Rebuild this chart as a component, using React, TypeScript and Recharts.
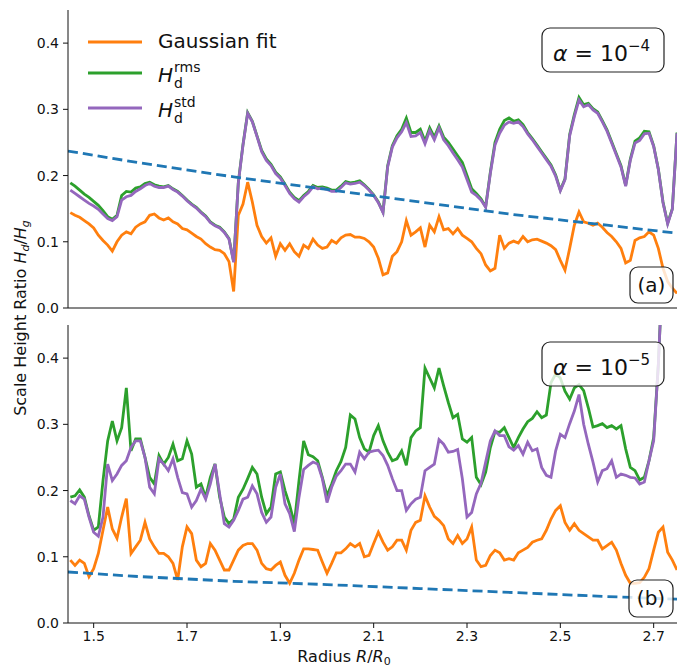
import { LineChart, Line, XAxis, YAxis } from "recharts";

// sampling grid (radius R/R0), shared by both panels
const radius = [
  1.45, 1.46, 1.47, 1.48, 1.49, 1.5, 1.51, 1.52, 1.53, 1.54, 1.55, 1.56, 1.57, 1.58, 1.59, 1.6, 1.61, 1.62, 1.63, 1.64,
  1.65, 1.66, 1.67, 1.68, 1.69, 1.7, 1.71, 1.72, 1.73, 1.74, 1.75, 1.76, 1.77, 1.78, 1.79, 1.8, 1.81, 1.82, 1.83, 1.84,
  1.85, 1.86, 1.87, 1.88, 1.89, 1.9, 1.91, 1.92, 1.93, 1.94, 1.95, 1.96, 1.97, 1.98, 1.99, 2.0, 2.01, 2.02, 2.03, 2.04,
  2.05, 2.06, 2.07, 2.08, 2.09, 2.1, 2.11, 2.12, 2.13, 2.14, 2.15, 2.16, 2.17, 2.18, 2.19, 2.2, 2.21, 2.22, 2.23, 2.24,
  2.25, 2.26, 2.27, 2.28, 2.29, 2.3, 2.31, 2.32, 2.33, 2.34, 2.35, 2.36, 2.37, 2.38, 2.39, 2.4, 2.41, 2.42, 2.43, 2.44,
  2.45, 2.46, 2.47, 2.48, 2.49, 2.5, 2.51, 2.52, 2.53, 2.54, 2.55, 2.56, 2.57, 2.58, 2.59, 2.6, 2.61, 2.62, 2.63, 2.64,
  2.65, 2.66, 2.67, 2.68, 2.69, 2.7, 2.71, 2.72, 2.73, 2.74, 2.75,
];

// panel (a), alpha = 1e-4
const gaussA = [
  0.144, 0.14, 0.137, 0.132, 0.127, 0.121, 0.11, 0.102, 0.095, 0.086, 0.1, 0.11, 0.115, 0.112, 0.122, 0.127, 0.13, 0.14, 0.142, 0.136,
  0.133, 0.136, 0.13, 0.127, 0.12, 0.118, 0.113, 0.108, 0.104, 0.097, 0.092, 0.088, 0.087, 0.082, 0.07, 0.025, 0.14, 0.157, 0.19, 0.16,
  0.125, 0.108, 0.098, 0.106, 0.078, 0.097, 0.087, 0.097, 0.085, 0.078, 0.095, 0.09, 0.104, 0.095, 0.09, 0.092, 0.102, 0.098, 0.106, 0.11,
  0.111, 0.107, 0.107, 0.105, 0.1, 0.092, 0.075, 0.05, 0.053, 0.078, 0.085, 0.1, 0.132, 0.11, 0.115, 0.121, 0.092, 0.125, 0.115, 0.138,
  0.118, 0.12, 0.112, 0.12, 0.11, 0.105, 0.1, 0.09, 0.082, 0.065, 0.056, 0.06, 0.11, 0.09, 0.098, 0.101, 0.098, 0.108, 0.1, 0.103,
  0.104, 0.101, 0.098, 0.094, 0.088, 0.072, 0.057, 0.09, 0.125, 0.145, 0.13, 0.128, 0.125, 0.128, 0.122, 0.114, 0.108, 0.1, 0.09, 0.068,
  0.072, 0.102, 0.106, 0.108, 0.115, 0.11, 0.09, 0.06, 0.04, 0.03, 0.022,
];
const rmsA = [
  0.189, 0.184, 0.178, 0.172, 0.167, 0.161, 0.155, 0.147, 0.138, 0.134, 0.14, 0.17, 0.176, 0.175, 0.181, 0.183, 0.188, 0.19, 0.186, 0.184,
  0.183, 0.185, 0.18, 0.176, 0.17, 0.163, 0.157, 0.152, 0.145, 0.139, 0.13, 0.125, 0.122, 0.115, 0.105, 0.07, 0.19, 0.247, 0.295, 0.282,
  0.26, 0.238, 0.225, 0.217, 0.205, 0.198, 0.187, 0.175, 0.167, 0.162, 0.17, 0.176, 0.185, 0.182, 0.183, 0.181, 0.178, 0.178, 0.184, 0.191,
  0.189, 0.19, 0.192, 0.186, 0.179, 0.171, 0.16, 0.145, 0.215, 0.245, 0.26, 0.27, 0.287, 0.265, 0.265, 0.27, 0.252, 0.272, 0.258, 0.275,
  0.258, 0.25, 0.24, 0.23, 0.22, 0.2, 0.18, 0.173, 0.165, 0.153, 0.205, 0.25, 0.27, 0.283, 0.287, 0.282, 0.284, 0.277, 0.265, 0.256,
  0.246, 0.236, 0.226, 0.216, 0.201, 0.178, 0.195, 0.262, 0.292, 0.318, 0.307, 0.309, 0.301, 0.296, 0.283, 0.269, 0.251, 0.233, 0.215, 0.185,
  0.225, 0.252, 0.257, 0.267, 0.266, 0.245, 0.21, 0.16, 0.128, 0.15, 0.265,
];
const stdA = [
  0.178, 0.173, 0.168, 0.163, 0.158, 0.154, 0.149, 0.142, 0.135, 0.132, 0.138, 0.163, 0.168, 0.17, 0.176, 0.18, 0.185, 0.188, 0.184, 0.182,
  0.182, 0.184, 0.179, 0.175, 0.169, 0.162, 0.156, 0.151, 0.144, 0.138, 0.129, 0.124, 0.121, 0.114, 0.104, 0.069, 0.189, 0.246, 0.294, 0.281,
  0.259, 0.236, 0.223, 0.215, 0.203, 0.196, 0.185, 0.173, 0.165, 0.16, 0.168, 0.174, 0.183, 0.18, 0.181, 0.179, 0.176, 0.176, 0.182, 0.189,
  0.187, 0.188, 0.19, 0.185, 0.178, 0.17, 0.159, 0.144, 0.213, 0.243, 0.257, 0.266, 0.28, 0.259, 0.26, 0.265, 0.248, 0.268, 0.254, 0.272,
  0.254, 0.245, 0.234, 0.224, 0.213, 0.194, 0.175, 0.17, 0.163, 0.152, 0.203, 0.246, 0.264, 0.276, 0.281, 0.279, 0.281, 0.274, 0.263, 0.254,
  0.244, 0.234, 0.224, 0.214, 0.199, 0.177, 0.194, 0.26, 0.289, 0.314, 0.304, 0.307, 0.299, 0.294, 0.281, 0.267, 0.249, 0.231, 0.213, 0.184,
  0.223, 0.249, 0.253, 0.263, 0.264, 0.244, 0.209, 0.159, 0.127, 0.149, 0.264,
];

// panel (b), alpha = 1e-5
const gaussB = [
  0.095, 0.087, 0.095, 0.09, 0.07, 0.082, 0.105, 0.14, 0.175, 0.142, 0.128, 0.16, 0.188, 0.105, 0.115, 0.125, 0.152, 0.127, 0.115, 0.105,
  0.105, 0.1, 0.09, 0.065, 0.115, 0.145, 0.135, 0.095, 0.085, 0.09, 0.12, 0.11, 0.095, 0.08, 0.08, 0.095, 0.11, 0.117, 0.12, 0.12,
  0.11, 0.09, 0.082, 0.08, 0.087, 0.092, 0.072, 0.06, 0.075, 0.095, 0.112, 0.112, 0.111, 0.11, 0.092, 0.075, 0.09, 0.106, 0.106, 0.112,
  0.12, 0.115, 0.12, 0.1, 0.102, 0.12, 0.137, 0.122, 0.11, 0.115, 0.125, 0.125, 0.11, 0.14, 0.152, 0.155, 0.192, 0.175, 0.161, 0.155,
  0.147, 0.127, 0.12, 0.132, 0.12, 0.127, 0.145, 0.095, 0.085, 0.087, 0.102, 0.11, 0.106, 0.095, 0.097, 0.095, 0.106, 0.11, 0.114, 0.122,
  0.125, 0.127, 0.14, 0.157, 0.17, 0.177, 0.152, 0.14, 0.15, 0.14, 0.135, 0.13, 0.125, 0.125, 0.112, 0.117, 0.122, 0.11, 0.09, 0.072,
  0.06, 0.06, 0.061, 0.069, 0.082, 0.11, 0.137, 0.145, 0.107, 0.095, 0.08,
];
const rmsB = [
  0.19, 0.192, 0.201, 0.19, 0.162, 0.14, 0.145, 0.215, 0.275, 0.305, 0.275, 0.295, 0.355, 0.26, 0.278, 0.278, 0.25, 0.22, 0.21, 0.253,
  0.24, 0.25, 0.27, 0.245, 0.248, 0.275, 0.255, 0.205, 0.21, 0.19, 0.22, 0.24, 0.19, 0.16, 0.15, 0.157, 0.19, 0.202, 0.218, 0.235,
  0.225, 0.19, 0.165, 0.175, 0.225, 0.228, 0.2, 0.178, 0.15, 0.215, 0.275, 0.254, 0.251, 0.245, 0.22, 0.192, 0.21, 0.23, 0.244, 0.265,
  0.314, 0.308, 0.28, 0.263, 0.258, 0.283, 0.298, 0.275, 0.258, 0.245, 0.248, 0.26, 0.238, 0.28, 0.29, 0.295, 0.385, 0.37, 0.355, 0.385,
  0.358, 0.333, 0.31, 0.315, 0.278, 0.273, 0.28, 0.22, 0.209, 0.228, 0.265, 0.289, 0.288, 0.295, 0.28, 0.265, 0.28, 0.293, 0.304, 0.309,
  0.319, 0.31, 0.314, 0.363, 0.376, 0.37, 0.35, 0.338, 0.355, 0.36, 0.351, 0.325, 0.296, 0.298, 0.301, 0.295, 0.298, 0.293, 0.298, 0.263,
  0.235, 0.23, 0.216, 0.22, 0.245, 0.28, 0.39, 0.55, 0.6, 0.62, 0.65,
];
const stdB = [
  0.185, 0.18, 0.192, 0.187, 0.16, 0.137, 0.131, 0.16, 0.24, 0.215, 0.225, 0.238, 0.245, 0.265, 0.275, 0.275, 0.25, 0.205, 0.195, 0.248,
  0.24, 0.23, 0.248, 0.22, 0.197, 0.195, 0.175, 0.185, 0.202, 0.187, 0.21, 0.24, 0.195, 0.15, 0.145, 0.155, 0.17, 0.187, 0.19, 0.207,
  0.195, 0.167, 0.152, 0.16, 0.205, 0.225, 0.18, 0.165, 0.138, 0.19, 0.232, 0.238, 0.243, 0.24, 0.218, 0.182, 0.205, 0.222, 0.23, 0.24,
  0.24, 0.228, 0.258, 0.248, 0.258, 0.26, 0.261, 0.253, 0.238, 0.218, 0.2, 0.2, 0.17, 0.18, 0.187, 0.19, 0.23, 0.235, 0.24, 0.277,
  0.27, 0.258, 0.259, 0.262, 0.218, 0.16, 0.167, 0.195, 0.211, 0.243, 0.275, 0.29, 0.283, 0.283, 0.266, 0.261, 0.268, 0.255, 0.273, 0.26,
  0.263, 0.235, 0.223, 0.22, 0.26, 0.285, 0.28, 0.301, 0.32, 0.345, 0.3, 0.27, 0.243, 0.213, 0.23, 0.233, 0.245, 0.22, 0.225, 0.223,
  0.22, 0.219, 0.21, 0.213, 0.245, 0.275, 0.39, 0.55, 0.6, 0.62, 0.65,
];

// dashed reference curves
const fitRadius = [1.445, 1.6, 1.8, 2.0, 2.2, 2.4, 2.6, 2.75];
const fitA = [0.237, 0.219, 0.198, 0.179, 0.16, 0.141, 0.125, 0.113];
const fitB = [0.077, 0.07, 0.063, 0.058, 0.052, 0.046, 0.04, 0.036];

const xTicks = [1.5, 1.7, 1.9, 2.1, 2.3, 2.5, 2.7];
const yTicks = [0, 0.1, 0.2, 0.3, 0.4];

const font = "'DejaVu Sans', sans-serif";
const ink = "#111";
const C = { gauss: "#ff7f0e", rms: "#2ca02c", std: "#9467bd", fit: "#1f77b4" };
const LW = 2.8;

function Panel({ gauss, rms, std, fit, top, height, showXLabels }: any) {
  const rows = radius.map((x, i) => ({ x, gauss: gauss[i], rms: rms[i], std: std[i] }));
  const fitRows = fitRadius.map((x, i) => ({ x, fit: fit[i] }));
  const tickStyle = { fontSize: 14, fill: ink, fontFamily: font };
  const axisLine = { stroke: ink, strokeWidth: 1 };
  return (
    <div style={{ position: "absolute", left: 0, top }}>
      <LineChart width={678} height={height} data={rows} margin={{ top: 10, right: 1, bottom: 0, left: 0 }}>
        <XAxis
          dataKey="x" type="number" domain={[1.445, 2.75]} ticks={xTicks} allowDataOverflow
          tick={showXLabels ? tickStyle : false} tickSize={5} tickMargin={3}
          tickLine={axisLine} axisLine={axisLine} height={showXLabels ? 45 : 12}
          tickFormatter={(v: number) => v.toFixed(1)}
        />
        <XAxis xAxisId="top" orientation="top" dataKey="x" type="number" domain={[1.445, 2.75]}
          height={0} tick={false} tickLine={false} axisLine={axisLine} />
        <YAxis
          type="number" domain={[0, 0.45]} ticks={yTicks} allowDataOverflow width={68}
          tick={tickStyle} tickSize={5} tickMargin={4} tickLine={axisLine} axisLine={axisLine}
          tickFormatter={(v: number) => v.toFixed(1)}
        />
        <YAxis yAxisId="right" orientation="right" type="number" domain={[0, 0.45]}
          width={0} tick={false} tickLine={false} axisLine={axisLine} />
        <Line dataKey="gauss" type="linear" stroke={C.gauss} strokeWidth={LW} dot={false} isAnimationActive={false} />
        <Line dataKey="rms" type="linear" stroke={C.rms} strokeWidth={LW} dot={false} isAnimationActive={false} />
        <Line dataKey="std" type="linear" stroke={C.std} strokeWidth={LW} dot={false} isAnimationActive={false} />
        <Line data={fitRows} dataKey="fit" type="linear" stroke={C.fit} strokeWidth={LW} strokeDasharray="10 5"
          dot={false} isAnimationActive={false} />
      </LineChart>
    </div>
  );
}

function Tag({ x, y, w, h, children }: any) {
  return (
    <g>
      <rect x={x} y={y} width={w} height={h} rx={8} fill="#fff" fillOpacity={0.8} stroke="#222" strokeWidth={1.2} />
      {children}
    </g>
  );
}

function Overlay() {
  return (
    <svg width={678} height={668} style={{ position: "absolute", left: 0, top: 0, pointerEvents: "none" }}
      fontFamily={font} fill={ink}>
      {/* legend */}
      <line x1={88} x2={142} y1={42} y2={42} stroke={C.gauss} strokeWidth={LW} />
      <text x={158} y={48} fontSize={20}>Gaussian fit</text>
      <line x1={88} x2={142} y1={73} y2={73} stroke={C.rms} strokeWidth={LW} />
      <text x={158} y={82} fontSize={20} fontStyle="italic">H</text>
      <text x={174} y={72} fontSize={14}>rms</text>
      <text x={174} y={88} fontSize={14}>d</text>
      <line x1={88} x2={142} y1={108} y2={108} stroke={C.std} strokeWidth={LW} />
      <text x={158} y={117} fontSize={20} fontStyle="italic">H</text>
      <text x={174} y={107} fontSize={14}>std</text>
      <text x={174} y={123} fontSize={14}>d</text>

      {/* alpha labels */}
      <Tag x={542} y={28} w={122} h={44}>
        <text x={553} y={61} fontSize={22}>
          <tspan fontStyle="italic">α</tspan>
          <tspan> = 10</tspan>
          <tspan fontSize={15} dy={-10}>−4</tspan>
        </text>
      </Tag>
      <Tag x={542} y={342} w={122} h={44}>
        <text x={553} y={375} fontSize={22}>
          <tspan fontStyle="italic">α</tspan>
          <tspan> = 10</tspan>
          <tspan fontSize={15} dy={-10}>−5</tspan>
        </text>
      </Tag>

      {/* panel tags */}
      <Tag x={630} y={267} w={43} h={36}>
        <text x={651.5} y={292} fontSize={20} textAnchor="middle">(a)</text>
      </Tag>
      <Tag x={629} y={580} w={44} h={37}>
        <text x={651} y={605} fontSize={20} textAnchor="middle">(b)</text>
      </Tag>

      {/* axis titles */}
      <text transform="translate(26,318) rotate(-90)" fontSize={16} textAnchor="middle">
        Scale Height Ratio <tspan fontStyle="italic">H</tspan>
        <tspan fontSize={11} dy={3} fontStyle="italic">d</tspan>
        <tspan dy={-3}>/</tspan>
        <tspan fontStyle="italic">H</tspan>
        <tspan fontSize={11} dy={3} fontStyle="italic">g</tspan>
      </text>
      <text x={344} y={662} fontSize={16} textAnchor="middle">
        Radius <tspan fontStyle="italic">R</tspan>/<tspan fontStyle="italic">R</tspan>
        <tspan fontSize={11} dy={3}>0</tspan>
      </text>
    </svg>
  );
}

export default function App() {
  return (
    <div style={{ position: "absolute", left: 0, top: 0, width: 678, height: 668, background: "#fff" }}>
      <Panel gauss={gaussA} rms={rmsA} std={stdA} fit={fitA} top={0} height={320} showXLabels={false} />
      <Panel gauss={gaussB} rms={rmsB} std={stdB} fit={fitB} top={315} height={353} showXLabels />
      <Overlay />
    </div>
  );
}
